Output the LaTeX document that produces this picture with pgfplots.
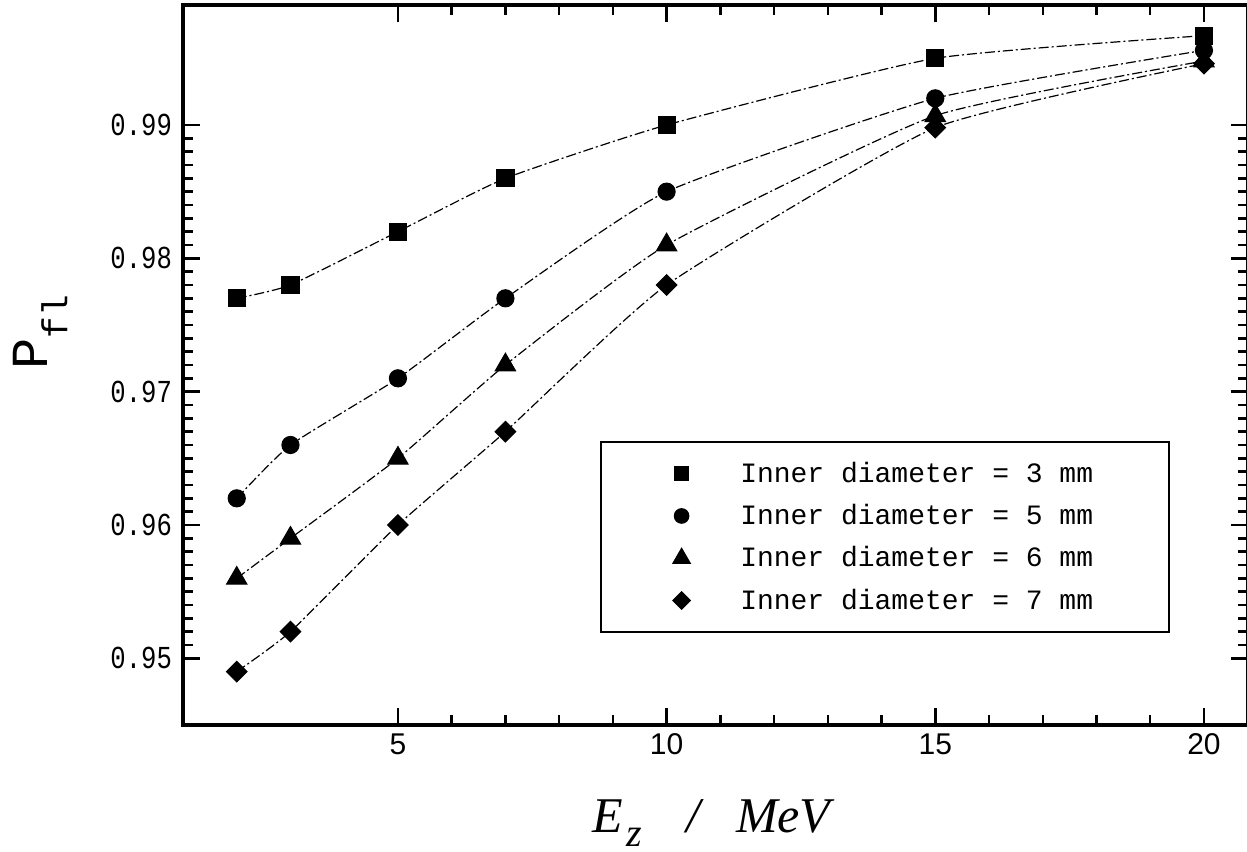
\documentclass[border=0pt]{standalone}
\usepackage{fontspec}
\setmainfont{Liberation Serif}
\newfontfamily\monof{Liberation Mono}
\newfontfamily\ytickf[FakeStretch=0.8]{Liberation Mono}
\newfontfamily\sansf{Liberation Sans}
\usepackage{pgfplots}
\usepackage{pgfplotstable}
\pgfplotsset{compat=1.18}

\pgfplotstableread{
x y
2 0.977
3 0.978
5 0.982
7 0.986
10 0.990
15 0.995
20 0.9967
}\dthree
\pgfplotstableread{
x y
2 0.962
3 0.966
5 0.971
7 0.977
10 0.985
15 0.992
20 0.9956
}\dfive
\pgfplotstableread{
x y
2 0.956
3 0.959
5 0.965
7 0.972
10 0.981
15 0.9907
20 0.9948
}\dsix
\pgfplotstableread{
x y
2 0.949
3 0.952
5 0.960
7 0.967
10 0.978
15 0.9898
20 0.9946
}\dseven

\begin{document}
\begin{tikzpicture}
\begin{axis}[
  scale only axis, width=532.5pt, height=360pt,
  xmin=1, xmax=20.82, ymin=0.945, ymax=0.999,
  xtick={5,10,15,20}, xticklabels={5,10,15,20}, minor x tick num=4,
  ytick={0.95,0.96,0.97,0.98,0.99}, yticklabels={0.95,0.96,0.97,0.98,0.99},
  minor y tick num=9,
  tick align=inside, tick pos=both, xticklabel pos=lower, yticklabel pos=left,
  major tick length=8.5pt, minor tick length=5pt,
  axis line style={line width=1.8pt},
  every tick/.style={black, line width=1.4pt},
  every minor tick/.style={black, line width=1.2pt},
  xticklabel style={font=\sansf\fontsize{15}{15}\selectfont, yshift=-1pt},
  yticklabel style={font=\ytickf\fontsize{16}{16}\selectfont, xshift=-2pt},
  xlabel={\fontsize{25}{25}\selectfont\itshape E\hspace{2pt}\raisebox{-7pt}{\fontsize{20}{20}\selectfont z}\hspace{22pt}/\hspace{18pt}MeV},
  xlabel style={at={(axis description cs:0.496,-0.136)}, anchor=center},
  ylabel={\monof\fontsize{26}{26}\selectfont P\raisebox{-10pt}{\fontsize{18}{18}\selectfont fl}},
  ylabel style={at={(axis description cs:-0.134,0.545)}, anchor=center},
  legend style={at={(0.3915,0.3944)}, anchor=north west, draw=black, line width=1pt,
    font=\monof\fontsize{14}{14}\selectfont, inner xsep=36pt, inner ysep=8pt,
    row sep=5.5pt, cells={anchor=west},
    /tikz/every odd column/.append style={column sep=23pt}},
  legend image code/.code={\draw[#1, solid, every mark/.append style={scale=0.85}] plot[only marks] coordinates {(0pt,0pt)};},
  every axis plot/.append style={black, smooth, tension=0.3, line width=0.6pt,
    dash pattern=on 5pt off 1.5pt on 1pt off 1.5pt},
]
\addplot[mark=square*, mark size=4.25pt, mark options={solid}] table[x=x,y=y] {\dthree};
\addlegendentry{Inner diameter = 3 mm}
\addplot[mark=*, mark size=4.25pt, mark options={solid}] table[x=x,y=y] {\dfive};
\addlegendentry{Inner diameter = 5 mm}
\addplot[mark=triangle*, mark size=5.8pt, mark options={solid}] table[x=x,y=y] {\dsix};
\addlegendentry{Inner diameter = 6 mm}
\addplot[mark=square*, mark size=3.6pt, mark options={solid, rotate=45}] table[x=x,y=y] {\dseven};
\addlegendentry{Inner diameter = 7 mm}
\coordinate (LL) at (rel axis cs:0,0);
\coordinate (UR) at (rel axis cs:1,1);
\end{axis}
\pgfresetboundingbox
\path ([shift={(-91.5pt,-63.5pt)}]LL) rectangle ([shift={(-0.5pt,2.5pt)}]UR);
\end{tikzpicture}
\end{document}
